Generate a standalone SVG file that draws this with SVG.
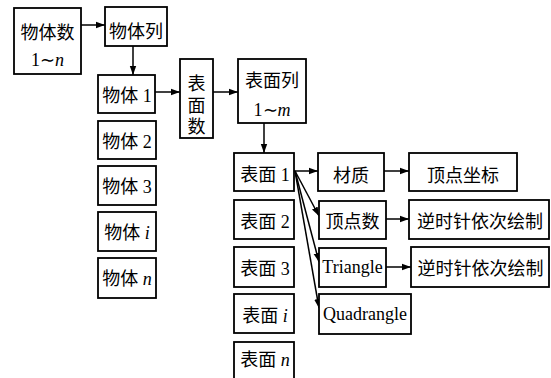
<svg xmlns="http://www.w3.org/2000/svg" width="551" height="378" viewBox="0 0 551 378">
<style>
.b{fill:#fff;stroke:#000;stroke-width:1.8}
.t text{font-size:18px;text-anchor:middle;fill:#000}
.lat{font-size:17px}
.w{font-size:19px}
.it{font-style:italic}
.c line{stroke:#000;stroke-width:1.5;marker-end:url(#ah)}
</style>
<defs>
<marker id="ah" markerUnits="userSpaceOnUse" markerWidth="10" markerHeight="8" refX="9" refY="4" orient="auto">
<path d="M0,0.8 L9,4 L0,7.2 Z" fill="#000"/>
</marker>
</defs>
<rect width="551" height="378" fill="#fff"/>
<g class="c" id="connectors">
<line x1="81" y1="25" x2="105" y2="25"/>
<line x1="133" y1="46" x2="133" y2="75"/>
<line x1="155" y1="92" x2="180" y2="92"/>
<line x1="213" y1="92" x2="238" y2="92"/>
<line x1="264" y1="123" x2="264" y2="153"/>
<line x1="294" y1="171" x2="318" y2="171"/>
<line x1="295" y1="171" x2="319" y2="216"/>
<line x1="295" y1="171" x2="319" y2="262"/>
<line x1="295" y1="171" x2="319" y2="308"/>
<line x1="384" y1="171" x2="409" y2="171"/>
<line x1="386" y1="219" x2="409" y2="219"/>
<line x1="386" y1="267" x2="411" y2="267"/>
</g>
<g class="t" font-family="'Liberation Serif', 'Noto Sans CJK SC', serif">
<g id="n_wutishu"><rect class="b" x="14" y="8" width="67" height="66"/><text x="47.5" y="38.5">物体数</text><text x="47.5" y="66">1∼<tspan class="it">n</tspan></text></g>
<g id="n_wutilie"><rect class="b" x="105" y="7" width="62" height="39"/><text x="136" y="37.5">物体列</text></g>
<g id="n_wuti1"><rect class="b" x="98" y="75" width="57" height="38"/><text x="127" y="101.5">物体 1</text></g>
<g id="n_wuti2"><rect class="b" x="98" y="121" width="58" height="38"/><text x="127" y="147.5">物体 2</text></g>
<g id="n_wuti3"><rect class="b" x="98" y="166" width="58" height="39"/><text x="127" y="193">物体 3</text></g>
<g id="n_wutii"><rect class="b" x="98" y="212" width="58" height="39"/><text x="127" y="239">物体 <tspan class="it">i</tspan></text></g>
<g id="n_wutin"><rect class="b" x="98" y="258" width="58" height="40"/><text x="127" y="285">物体 <tspan class="it">n</tspan></text></g>
<g id="n_biaomianshu"><rect class="b" x="180" y="59" width="33" height="79"/><text x="196.5" y="90">表</text><text x="196.5" y="112">面</text><text x="196.5" y="133">数</text></g>
<g id="n_biaomianlie"><rect class="b" x="238" y="59" width="68" height="64"/><text x="272" y="87">表面列</text><text x="272" y="116">1∼<tspan class="it">m</tspan></text></g>
<g id="n_bm1"><rect class="b" x="234" y="153" width="60" height="38"/><text x="265" y="181">表面 1</text></g>
<g id="n_bm2"><rect class="b" x="234" y="200" width="60" height="39"/><text x="265" y="228">表面 2</text></g>
<g id="n_bm3"><rect class="b" x="234" y="247" width="60" height="40"/><text x="265" y="275">表面 3</text></g>
<g id="n_bmi"><rect class="b" x="234" y="294" width="60" height="39"/><text x="265" y="322">表面 <tspan class="it">i</tspan></text></g>
<g id="n_bmn"><rect class="b" x="234" y="342" width="60" height="42"/><text x="265" y="366">表面 <tspan class="it">n</tspan></text></g>
<g id="n_caizhi"><rect class="b" x="318" y="153" width="66" height="38"/><text x="351" y="181.5">材质</text></g>
<g id="n_dingdianzuobiao"><rect class="b" x="409" y="153" width="108" height="38"/><text x="463" y="182">顶点坐标</text></g>
<g id="n_dingdianshu"><rect class="b" x="319" y="201" width="67" height="38"/><text x="352.5" y="228">顶点数</text></g>
<g id="n_ni1"><rect class="b" x="409" y="200" width="140" height="39"/><text class="w" x="480" y="228">逆时针依次绘制</text></g>
<g id="n_triangle"><rect class="b" x="319" y="248" width="67" height="39"/><text class="lat" x="352.5" y="273">Triangle</text></g>
<g id="n_ni2"><rect class="b" x="411" y="247" width="138" height="40"/><text class="w" x="480.5" y="275">逆时针依次绘制</text></g>
<g id="n_quadrangle"><rect class="b" x="319" y="294" width="92" height="40"/><text class="lat" x="365" y="320">Quadrangle</text></g>
</g>
</svg>
